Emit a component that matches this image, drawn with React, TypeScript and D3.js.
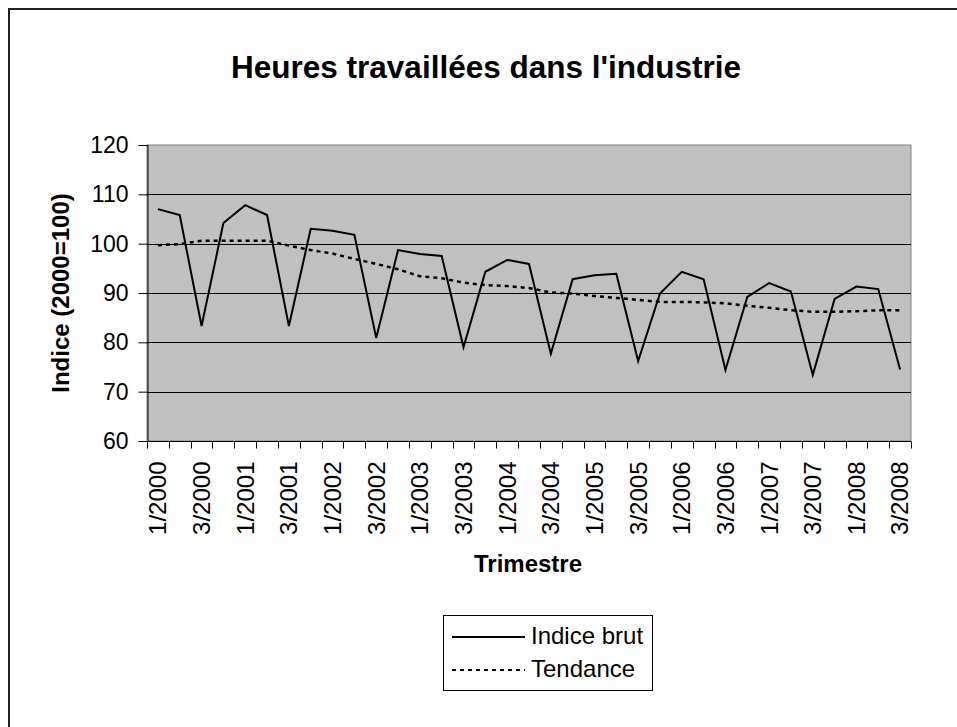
import * as d3 from "d3";
import React, { useEffect, useRef } from "react";

// trimestres 1/2000 .. 3/2008
const quarters = [
    "1/2000", "2/2000", "3/2000", "4/2000",
    "1/2001", "2/2001", "3/2001", "4/2001",
    "1/2002", "2/2002", "3/2002", "4/2002",
    "1/2003", "2/2003", "3/2003", "4/2003",
    "1/2004", "2/2004", "3/2004", "4/2004",
    "1/2005", "2/2005", "3/2005", "4/2005",
    "1/2006", "2/2006", "3/2006", "4/2006",
    "1/2007", "2/2007", "3/2007", "4/2007",
    "1/2008", "2/2008", "3/2008",
];

const indiceBrut = [
    107.0, 105.8, 83.3, 104.2, 107.8, 105.8, 83.3, 103.0, 102.6, 101.8,
    80.9, 98.7, 97.9, 97.5, 79.0, 94.3, 96.7, 95.9, 77.7, 92.8,
    93.6, 93.9, 76.2, 89.9, 94.3, 92.8, 74.4, 89.2, 92.0, 90.3,
    73.4, 88.8, 91.3, 90.8, 74.5,
];

const tendance = [
    99.7, 99.9, 100.6, 100.6, 100.6, 100.6, 99.6, 98.7, 98.0, 96.9,
    95.9, 94.8, 93.4, 93.0, 92.1, 91.6, 91.4, 91.0, 90.1, 89.9,
    89.4, 89.0, 88.6, 88.2, 88.2, 88.1, 87.9, 87.4, 87.0, 86.5,
    86.2, 86.2, 86.3, 86.5, 86.5,
];

const yTicks = [60, 70, 80, 90, 100, 110, 120];
const seriesNames = ["Indice brut", "Tendance"];

const FONT = "'Liberation Sans', Arial, sans-serif";

const App: React.FC = () => {
    const svgRef = useRef<SVGSVGElement>(null);

    useEffect(() => {
        const svg = d3.select(svgRef.current);
        svg.selectAll("*").remove();

        const left = 147,
            right = 911,
            top = 145,
            bottom = 441;

        const x = d3.scaleBand().domain(quarters).range([left, right]);
        const y = d3.scaleLinear().domain([60, 120]).range([bottom, top]);
        const cx = (q: string) => x(q)! + x.bandwidth() / 2;

        // chart frame (only top and left edges are visible)
        svg.append("path")
            .attr("d", "M9,727 V9 H957")
            .attr("fill", "none")
            .attr("stroke", "#222")
            .attr("stroke-width", 2);

        svg.append("text")
            .attr("x", 486)
            .attr("y", 78)
            .attr("text-anchor", "middle")
            .attr("font-family", FONT)
            .attr("font-weight", "bold")
            .attr("font-size", 31.5)
            .text("Heures travaillées dans l'industrie");

        // plot area
        svg.append("rect")
            .attr("x", left)
            .attr("y", top)
            .attr("width", right - left)
            .attr("height", bottom - top)
            .attr("fill", "#c0c0c0")
            .attr("stroke", "#808080");

        svg.append("g")
            .selectAll("line")
            .data(yTicks.filter(t => t > 60 && t < 120))
            .enter()
            .append("line")
            .attr("x1", left)
            .attr("x2", right)
            .attr("y1", d => Math.round(y(d)) + 0.5)
            .attr("y2", d => Math.round(y(d)) + 0.5)
            .attr("stroke", "#000");

        // y axis
        svg.append("g")
            .attr("transform", `translate(${left + 0.5},0)`)
            .call(
                d3.axisLeft(y)
                    .tickValues(yTicks)
                    .tickSize(9)
                    .tickPadding(10)
                    .tickFormat(d => `${d}`),
            )
            .call(g => g.select(".domain").attr("stroke", "#000"))
            .call(g =>
                g.selectAll(".tick text")
                    .attr("font-family", FONT)
                    .attr("font-size", 23)
                    .attr("fill", "#000"),
            );

        // x axis
        const xAxis = svg.append("g").attr("transform", `translate(0,${bottom + 0.5})`);
        xAxis.append("line")
            .attr("x1", left)
            .attr("x2", right)
            .attr("stroke", "#000");
        xAxis.selectAll(".bound")
            .data(d3.range(quarters.length + 1))
            .enter()
            .append("line")
            .attr("x1", i => Math.round(left + i * x.step()) + 0.5)
            .attr("x2", i => Math.round(left + i * x.step()) + 0.5)
            .attr("y1", 0)
            .attr("y2", 7)
            .attr("stroke", "#000");
        xAxis.selectAll(".lbl")
            .data(quarters.filter((_, i) => i % 2 === 0))
            .enter()
            .append("text")
            .attr("transform", d => `translate(${cx(d)},20) rotate(-90)`)
            .attr("text-anchor", "end")
            .attr("dy", "0.35em")
            .attr("font-family", FONT)
            .attr("font-size", 24)
            .text(d => d);

        // series
        const mkLine = (vals: number[]) =>
            d3.line<string>()
                .x(d => cx(d))
                .y((_, i) => y(vals[i]))(quarters);

        svg.append("path")
            .attr("d", mkLine(tendance)!)
            .attr("fill", "none")
            .attr("stroke", "#000")
            .attr("stroke-width", 2.5)
            .attr("stroke-dasharray", "4,4");

        svg.append("path")
            .attr("d", mkLine(indiceBrut)!)
            .attr("fill", "none")
            .attr("stroke", "#000")
            .attr("stroke-width", 2)
            .attr("stroke-linejoin", "miter");

        // axis titles
        svg.append("text")
            .attr("transform", "translate(61,293) rotate(-90)")
            .attr("text-anchor", "middle")
            .attr("dy", "0.35em")
            .attr("font-family", FONT)
            .attr("font-weight", "bold")
            .attr("font-size", 24)
            .text("Indice (2000=100)");

        svg.append("text")
            .attr("x", 528)
            .attr("y", 572)
            .attr("text-anchor", "middle")
            .attr("font-family", FONT)
            .attr("font-weight", "bold")
            .attr("font-size", 24)
            .text("Trimestre");

        // legend
        const legend = svg.append("g").attr("transform", "translate(443,615)");
        legend.append("rect")
            .attr("x", 0.5)
            .attr("y", 0.5)
            .attr("width", 209)
            .attr("height", 75)
            .attr("fill", "#fff")
            .attr("stroke", "#000");
        const rows = legend.selectAll(".row")
            .data(seriesNames)
            .enter()
            .append("g")
            .attr("transform", (_, i) => `translate(0,${i * 33})`);
        rows.append("line")
            .attr("x1", 9)
            .attr("x2", 82)
            .attr("y1", 22)
            .attr("y2", 22)
            .attr("stroke", "#000")
            .attr("stroke-width", 2)
            .attr("stroke-dasharray", (_, i) => (i === 1 ? "4,4" : null));
        rows.append("text")
            .attr("x", 88)
            .attr("y", 29)
            .attr("font-family", FONT)
            .attr("font-size", 24)
            .text(d => d);
    }, []);

    return (
        <svg
            ref={svgRef}
            width={957}
            height={727}
            style={{ position: "absolute", left: 0, top: 0, background: "#fff" }}
        ></svg>
    );
};

export default App;
